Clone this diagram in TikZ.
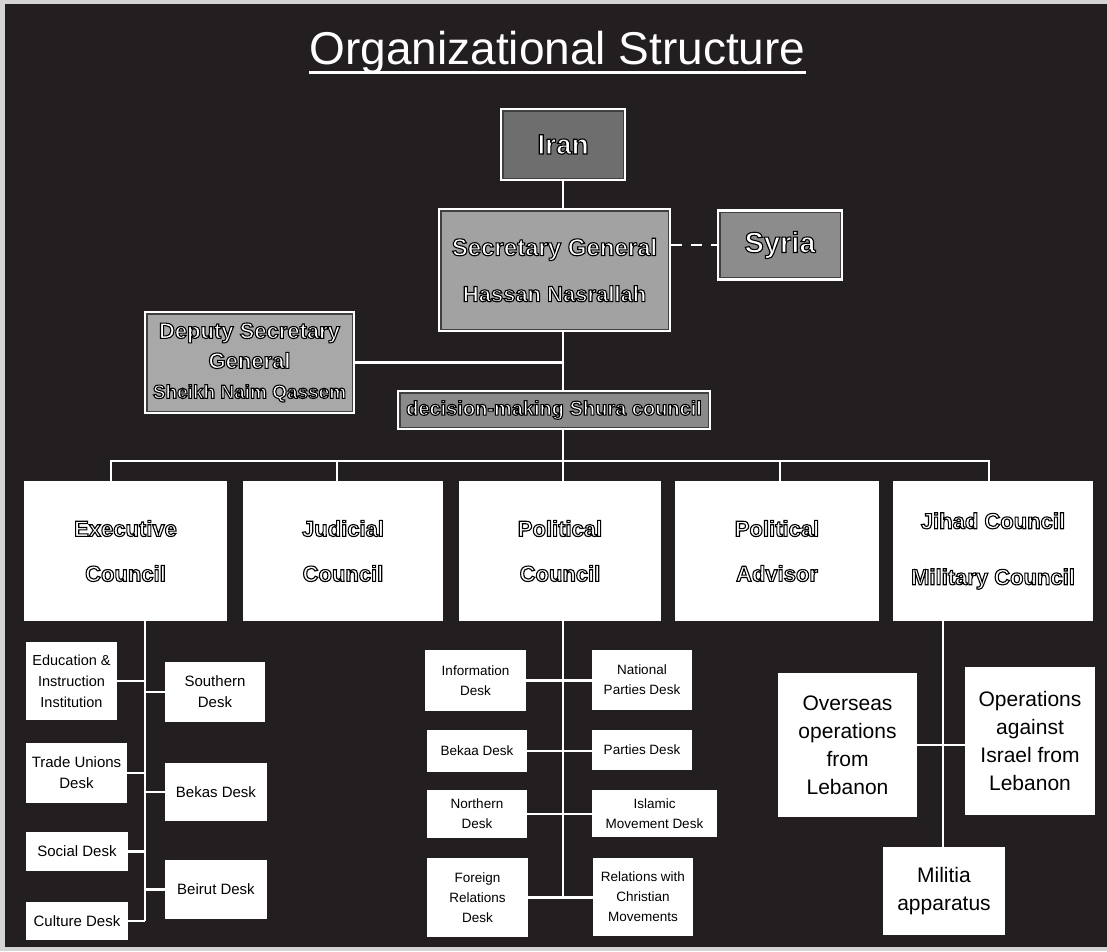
\documentclass[tikz,border=0pt]{standalone}
\usepackage{fontspec}
\setmainfont{Liberation Sans}
\definecolor{bg}{HTML}{231F20}
\definecolor{framec}{HTML}{D4D4D4}
\definecolor{irang}{HTML}{6E6E6E}
\definecolor{sgg}{HTML}{A2A2A2}
\definecolor{syg}{HTML}{8C8C8C}
\definecolor{depg}{HTML}{A8A8A8}
\definecolor{shg}{HTML}{8A8A8A}
\newcommand{\fs}[2]{\fontsize{#1}{#2}\selectfont}
% white text with black outline (fill + stroke)
\newcommand{\ct}[1]{\special{pdf:literal direct 2 Tr 0 G 1.1 w}#1\special{pdf:literal direct 0 Tr 1 w}}
% hollow outlined text (stroke only)
\newcommand{\hl}[1]{\special{pdf:literal direct 1 Tr 0 G 1.1 w}#1\special{pdf:literal direct 0 Tr 1 w}}
\tikzset{
  topbox/.style={draw=white, line width=2.2pt, text=white, align=center, inner sep=1pt},
  council/.style={fill=white, text=black, align=center, inner sep=1pt},
  desk/.style={fill=white, text=black, align=center, inner sep=1pt},
  conn/.style={draw=white, line width=2.4pt},
  dashconn/.style={draw=white, line width=2.4pt, dash pattern=on 11pt off 9pt},
  innerframe/.style={draw=black!75, line width=1.2pt}
}
\begin{document}
\begin{tikzpicture}[x=1pt,y=-1pt]
\useasboundingbox (0,0) rectangle (1107,951);
\fill[framec] (0,0) rectangle (1107,951);
\fill[bg] (5,4) rectangle (1107,947);

% title
\node[text=white, anchor=base, inner sep=0, font=\fs{46}{50}] (title) at (557.5,64) {Organizational Structure};
\draw[white, line width=3pt] ([yshift=-8pt]title.base west) -- ([yshift=-8pt]title.base east);

% top boxes
\node[topbox, fill=irang, minimum width=124pt, minimum height=71pt, font=\fs{28}{32}\bfseries] (iran) at (563,144.5) {\ct{Iran}};
\node[topbox, fill=sgg, minimum width=231pt, minimum height=122pt, font=\fs{24}{46}\bfseries] (sg) at (554.5,270) {\ct{Secretary General}\\\fs{22}{46}\ct{Hassan Nasrallah}};
\node[topbox, fill=syg, minimum width=124pt, minimum height=69pt, font=\fs{29}{34}\bfseries] (syria) at (780,245) {\ct{Syria}};
\node[topbox, fill=depg, minimum width=209pt, minimum height=101pt, font=\fs{22}{30}\bfseries] (deputy) at (249.5,362.5) {\ct{Deputy Secretary}\\\ct{General}\\\fs{19}{33}\ct{Sheikh Naim Qassem}};
\node[topbox, fill=shg, minimum width=312pt, minimum height=38pt, font=\fs{20}{24}\bfseries] (shura) at (554,410) {\ct{decision-making Shura council}};
\foreach \n in {iran,sg,syria,deputy,shura}{
  \draw[innerframe] ([shift={(3pt,-3pt)}]\n.north west) rectangle ([shift={(-3pt,3pt)}]\n.south east);
}

% councils
\node[council, minimum width=203pt, minimum height=140pt, font=\fs{22}{45}\bfseries] (exec) at (125.5,551) {\hl{Executive}\\\hl{Council}};
\node[council, minimum width=200pt, minimum height=140pt, font=\fs{22}{45}\bfseries] (jud) at (343,551) {\hl{Judicial}\\\hl{Council}};
\node[council, minimum width=202pt, minimum height=140pt, font=\fs{22}{45}\bfseries] (pol) at (560,551) {\hl{Political}\\\hl{Council}};
\node[council, minimum width=204pt, minimum height=140pt, font=\fs{22}{45}\bfseries] (adv) at (777,551) {\hl{Political}\\\hl{Advisor}};
\node[council, minimum width=200pt, minimum height=140pt, font=\fs{22}{56}\bfseries] (jihad) at (993,551) {\hl{Jihad Council}\\\hl{Military Council}};

% executive desks
\node[desk, minimum width=91pt, minimum height=78pt, font=\fs{14.5}{21}] (edu) at (71.5,681) {Education \&\\Instruction\\Institution};
\node[desk, minimum width=101pt, minimum height=60pt, font=\fs{15}{21}] (trade) at (76.5,773) {Trade Unions\\Desk};
\node[desk, minimum width=102pt, minimum height=39pt, font=\fs{15}{20}] (social) at (77,851.5) {Social Desk};
\node[desk, minimum width=102pt, minimum height=38pt, font=\fs{15}{20}] (culture) at (77,921) {Culture Desk};
\node[desk, minimum width=100pt, minimum height=60pt, font=\fs{15}{21}] (southern) at (215,692) {Southern\\Desk};
\node[desk, minimum width=102pt, minimum height=58pt, font=\fs{15}{20}] (bekas) at (216,792) {Bekas Desk};
\node[desk, minimum width=102pt, minimum height=59pt, font=\fs{15}{20}] (beirut) at (216,889.5) {Beirut Desk};

% political desks
\node[desk, minimum width=101pt, minimum height=61pt, font=\fs{13.5}{20}] (info) at (475.5,680.5) {Information\\Desk};
\node[desk, minimum width=100pt, minimum height=60pt, font=\fs{13.5}{20}] (natl) at (642,680) {National\\Parties Desk};
\node[desk, minimum width=100pt, minimum height=42pt, font=\fs{13.5}{20}] (bekaa) at (477,751) {Bekaa Desk};
\node[desk, minimum width=100pt, minimum height=40pt, font=\fs{13.5}{20}] (parties) at (642,750) {Parties Desk};
\node[desk, minimum width=100pt, minimum height=48pt, font=\fs{13.5}{20}] (northern) at (477,814) {Northern\\Desk};
\node[desk, minimum width=125pt, minimum height=47pt, font=\fs{13.5}{20}] (islamic) at (654.5,813.5) {Islamic\\Movement Desk};
\node[desk, minimum width=101pt, minimum height=79pt, font=\fs{13.5}{20}] (foreign) at (477.5,897.5) {Foreign\\Relations\\Desk};
\node[desk, minimum width=100pt, minimum height=78pt, font=\fs{13.5}{20}] (relchr) at (643,897) {Relations with\\Christian\\Movements};

% military desks
\node[desk, minimum width=139pt, minimum height=144pt, font=\fs{21}{28}] (overseas) at (847.5,745) {Overseas\\operations\\from\\Lebanon};
\node[desk, minimum width=130pt, minimum height=148pt, font=\fs{21}{28}] (ops) at (1030,741) {Operations\\against\\Israel from\\Lebanon};
\node[desk, minimum width=122pt, minimum height=88pt, font=\fs{21}{28}] (militia) at (944,891) {Militia\\apparatus};

% connectors (top)
\draw[conn] (iran.south) -- (iran.south |- sg.north);
\draw[conn] (sg.south -| iran.south) -- (shura.north -| iran.south);
\draw[conn] (deputy.east) -- (deputy.east -| iran.south);
\draw[dashconn] (sg.east |- syria.west) -- (syria.west);
\draw[conn] (shura.south -| iran.south) -- (pol.north -| iran.south);

% bus
\coordinate (busL) at (111,461);
\coordinate (busR) at (989,461);
\coordinate (dJud) at (337,461);
\coordinate (dAdv) at (780,461);
\draw[conn] (exec.north -| busL) -- (busL) -- (busR) -- (jihad.north -| busR);
\draw[conn] (dJud) -- (dJud |- jud.north);
\draw[conn] (dAdv) -- (dAdv |- adv.north);

% executive spine
\coordinate (es) at (145,621);
\draw[conn] (es) -- (es |- culture.east);
\foreach \n in {edu,trade,social,culture}{\draw[conn] (\n.east) -- (\n.east -| es);}
\foreach \n in {southern,bekas,beirut}{\draw[conn] (\n.west) -- (\n.west -| es);}

% political spine
\draw[conn] (pol.south -| iran.south) -- (iran.south |- foreign.east);
\draw[conn] (info.east) -- (info.east -| natl.west);
\draw[conn] (bekaa.east) -- (bekaa.east -| parties.west);
\draw[conn] (northern.east) -- (northern.east -| islamic.west);
\draw[conn] (foreign.east) -- (foreign.east -| relchr.west);

% jihad spine
\coordinate (js) at (943,621);
\draw[conn] (js) -- (js |- militia.north);
\draw[conn] (overseas.east) -- (overseas.east -| ops.west);
\end{tikzpicture}
\end{document}
